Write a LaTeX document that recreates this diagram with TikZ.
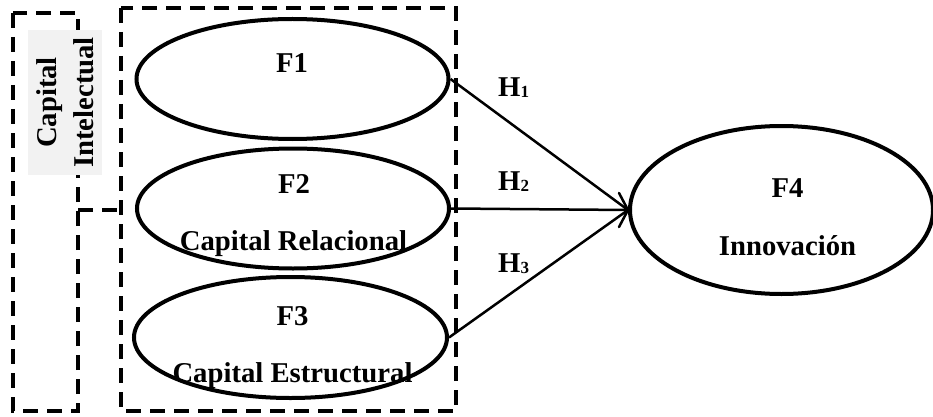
\documentclass[tikz,border=0pt]{standalone}
\usepackage{fontspec}
\setmainfont{Liberation Serif}
\usetikzlibrary{shapes.geometric,calc}
\definecolor{lblgray}{HTML}{F2F2F2}
\tikzset{
  dashbox/.style={line width=4pt, dash pattern=on 15pt off 9pt},
  factor/.style={ellipse, draw, line width=4pt, inner sep=0pt},
  lbl/.style={font=\fontsize{28.7}{37}\selectfont\bfseries, anchor=base, inner sep=0pt},
  hyp/.style={font=\fontsize{28.7}{34}\selectfont\bfseries, anchor=base west, inner sep=0pt},
  hline/.style={line width=2.5pt},
  barb/.style={line width=2.5pt, line cap=round}
}
\newcommand{\hsub}[1]{\raisebox{-1.5pt}{\fontsize{17}{20}\selectfont #1}}
\begin{document}
\begin{tikzpicture}[x=1pt,y=-1pt]
\useasboundingbox (0,0) rectangle (933,417);
% dashed boxes
\coordinate (la) at (13,13);
\coordinate (lb) at (78,411);
\coordinate (ra) at (121,8);
\coordinate (rb) at (456,411);
\draw[dashbox] (la) rectangle (lb);
\draw[dashbox] (ra) rectangle (rb);
\coordinate (cl) at (78,210);
\coordinate (cr) at (121,210);
\draw[dashbox] (cl) -- (cr);
% label
\node[rotate=90, align=center, fill=lblgray, minimum width=145pt, minimum height=74pt,
      inner sep=0pt, font=\fontsize{28.7}{37}\selectfont\bfseries] (cap) at (65,102.5)
      {Capital\\Intelectual};
% ellipses
\node[factor, minimum width=312pt, minimum height=120pt] (F1) at (292.5,79) {};
\node[factor, minimum width=312pt, minimum height=120pt] (F2) at (293,208.5) {};
\node[factor, minimum width=313pt, minimum height=121pt] (F3) at (290.5,337.5) {};
\node[factor, minimum width=303pt, minimum height=168pt] (F4) at (781.5,210) {};
% texts
\node[lbl] (t1) at (292,73) {F1};
\node[lbl] (t2) at (294,193) {F2};
\node[lbl] (t2b) at (293.5,250) {Capital Relacional};
\node[lbl] (t3) at (292.5,325) {F3};
\node[lbl] (t3b) at (292.5,382) {Capital Estructural};
\node[lbl] (t4) at (787.5,197) {F4};
\node[lbl] (t4b) at (787.5,255) {Innovación};
% paths
\draw[hline] (F1.east) -- (F4.west);
\draw[hline] (F2.east) -- (F4.west);
\draw[hline] (F3.east) -- (F4.west);
\draw[barb] ($(F4.west)+(-9,-17)$) .. controls ($(F4.west)+(-4,-9)$) .. (F4.west)
            .. controls ($(F4.west)+(-4,9)$) .. ($(F4.west)+(-9,17)$);
\node[hyp] (h1) at (498,96) {H\hsub{1}};
\node[hyp] (h2) at (498,190) {H\hsub{2}};
\node[hyp] (h3) at (498,272) {H\hsub{3}};
\end{tikzpicture}
\end{document}
